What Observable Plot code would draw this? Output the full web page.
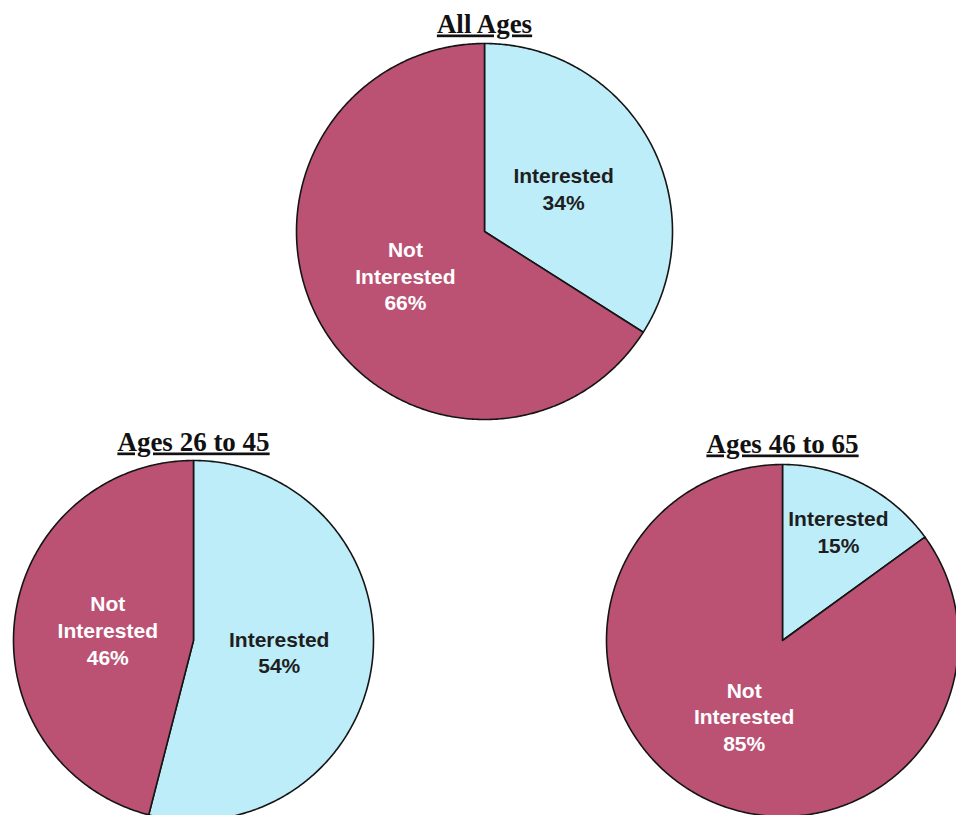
<!DOCTYPE html>
<html>
<head>
<meta charset="utf-8">
<script src="https://cdn.jsdelivr.net/npm/d3@7"></script>
<script src="https://cdn.jsdelivr.net/npm/@observablehq/plot@0.6"></script>
<style>
  html, body { margin: 0; padding: 0; background: #fff; overflow: hidden; }
  #chart { width: 956px; height: 815px; overflow: hidden; }
</style>
</head>
<body>
<div id="chart"></div>
<script>
// ---- data ----
const pieTitles = ["All Ages", "Ages 26 to 45", "Ages 46 to 65"];
const categories = ["Interested", "Not Interested"];
const allAges = [34, 66];
const ages26to45 = [54, 46];
const ages46to65 = [15, 85];

// ---- layout (pixel positions of each pie) ----
const layout = [
  {cx: 484, cy: 231, r: 188, titleY: 32},
  {cx: 193, cy: 640, r: 180, titleY: 450},
  {cx: 782, cy: 640, r: 176, titleY: 452}
];
const colors = {"Interested": "#bdedf8", "Not Interested": "#bb5274"};
const labelColors = {"Interested": "#1e1e1e", "Not Interested": "#ffffff"};

const series = [allAges, ages26to45, ages46to65];
const W = 956, H = 815;

const polys = [];
const labels = [];
const titles = [];
series.forEach((vals, i) => {
  const {cx, cy, r, titleY} = layout[i];
  const total = d3.sum(vals);
  const arcs = d3.pie().sort(null).value(d => d)(vals);
  arcs.forEach((a, j) => {
    const key = pieTitles[i] + "|" + categories[j];
    polys.push({key, cat: categories[j], x: cx, y: cy});
    const n = Math.max(4, Math.ceil((a.endAngle - a.startAngle) / 0.01));
    for (let k = 0; k <= n; k++) {
      const t = a.startAngle + (a.endAngle - a.startAngle) * k / n;
      polys.push({key, cat: categories[j], x: cx + r * Math.sin(t), y: cy - r * Math.cos(t)});
    }
    polys.push({key, cat: categories[j], x: cx, y: cy});
    const share = vals[j] / total;
    const mid = (a.startAngle + a.endAngle) / 2;
    const f = share < 0.2 ? 0.7 : 0.48;
    labels.push({
      cat: categories[j],
      text: (categories[j] === "Not Interested" ? "Not\nInterested" : "Interested") + "\n" + vals[j] + "%",
      x: cx + f * r * Math.sin(mid),
      y: cy - f * r * Math.cos(mid)
    });
  });
  titles.push({text: pieTitles[i], x: cx, y: titleY});
});

const chart = Plot.plot({
  width: W,
  height: H,
  margin: 0,
  x: {domain: [0, W], range: [0, W], axis: null},
  y: {domain: [0, H], range: [0, H], axis: null},
  style: {background: "#fff"},
  marks: [
    Plot.line(polys, {
      x: "x", y: "y", z: "key",
      fill: d => colors[d.cat],
      stroke: "#151515", strokeWidth: 1.6, strokeLinejoin: "round"
    }),
    Plot.text(labels, {
      x: "x", y: "y", text: "text",
      fill: d => labelColors[d.cat],
      fontFamily: "Liberation Sans, Arial, sans-serif",
      fontWeight: "bold", fontSize: 21, lineHeight: 1.28,
      textAnchor: "middle", lineAnchor: "middle"
    }),
    Plot.text(titles, {
      x: "x", y: "y", text: "text",
      fill: "#111",
      fontFamily: "Liberation Serif, Times New Roman, serif",
      fontWeight: "bold", fontSize: 27,
      textAnchor: "middle", lineAnchor: "bottom"
    })
  ]
});

// underline the titles
d3.select(chart).selectAll("text")
  .filter(function() { return pieTitles.includes(this.textContent); })
  .style("text-decoration", "underline");

document.getElementById("chart").appendChild(chart);
</script>
</body>
</html>
